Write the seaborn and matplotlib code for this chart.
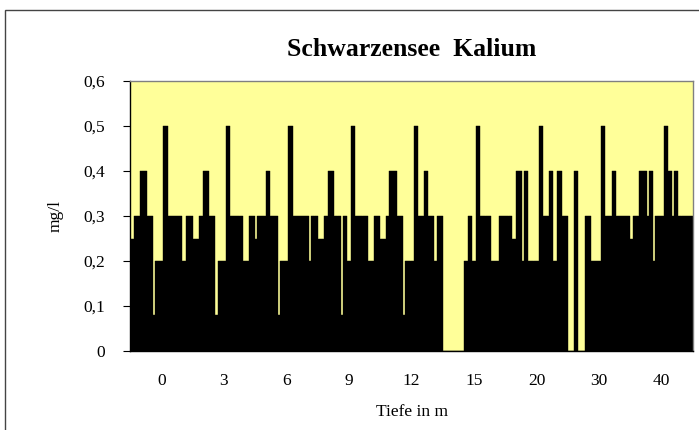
import matplotlib
matplotlib.use("Agg")
import matplotlib.pyplot as plt
import seaborn as sns
import pandas as pd
from matplotlib.patches import Rectangle

# Depth categories (x axis)
depths = ["0", "3", "6", "9", "12", "15", "20", "30", "40"]

# Values (mg/l) per depth, one value per sampling series (30 series)
d0 = [0.25, 0.25, 0.3, 0.3, 0.3, 0.4, 0.4, 0.4, 0.3, 0.3, 0.3, 0.08, 0.2, 0.2, 0.2,
      0.2, 0.5, 0.5, 0.3, 0.3, 0.3, 0.3, 0.3, 0.3, 0.3, 0.2, 0.2, 0.3, 0.3, 0.3]
d3 = [0.25, 0.25, 0.25, 0.3, 0.3, 0.4, 0.4, 0.4, 0.3, 0.3, 0.3, 0.08, 0.2, 0.2, 0.2,
      0.2, 0.5, 0.5, 0.3, 0.3, 0.3, 0.3, 0.3, 0.3, 0.2, 0.2, 0.2, 0.3, 0.3, 0.3]
d6 = [0.25, 0.3, 0.3, 0.3, 0.3, 0.4, 0.4, 0.3, 0.3, 0.3, 0.3, 0.08, 0.2, 0.2, 0.2,
      0.2, 0.5, 0.5, 0.3, 0.3, 0.3, 0.3, 0.3, 0.3, 0.3, 0.3, 0.2, 0.3, 0.3, 0.3]
d9 = [0.25, 0.25, 0.25, 0.3, 0.3, 0.4, 0.4, 0.4, 0.3, 0.3, 0.3, 0.08, 0.3, 0.3, 0.2,
      0.2, 0.5, 0.5, 0.3, 0.3, 0.3, 0.3, 0.3, 0.3, 0.2, 0.2, 0.2, 0.3, 0.3, 0.3]
d12 = [0.25, 0.25, 0.25, 0.3, 0.4, 0.4, 0.4, 0.4, 0.3, 0.3, 0.3, 0.08, 0.2, 0.2, 0.2,
       0.2, 0.5, 0.5, 0.3, 0.3, 0.3, 0.4, 0.4, 0.3, 0.3, 0.3, 0.2, 0.3, 0.3, 0.3]
d15 = [0, 0, 0, 0, 0, 0, 0, 0, 0, 0, 0.2, 0.2, 0.3, 0.3, 0.2,
       0.2, 0.5, 0.5, 0.3, 0.3, 0.3, 0.3, 0.3, 0.2, 0.2, 0.2, 0.2, 0.3, 0.3, 0.3]
d20 = [0.3, 0.3, 0.3, 0.25, 0.25, 0.4, 0.4, 0.4, 0.2, 0.4, 0.4, 0.2, 0.2, 0.2, 0.2,
       0.2, 0.5, 0.5, 0.3, 0.3, 0.3, 0.4, 0.4, 0.2, 0.2, 0.4, 0.4, 0.3, 0.3, 0.3]
d30 = [0, 0, 0, 0.4, 0.4, 0, 0, 0, 0.3, 0.3, 0.3, 0.2, 0.2, 0.2, 0.2,
       0.2, 0.5, 0.5, 0.3, 0.3, 0.3, 0.4, 0.4, 0.3, 0.3, 0.3, 0.3, 0.3, 0.3, 0.3]
d40 = [0.25, 0.3, 0.3, 0.3, 0.4, 0.4, 0.4, 0.4, 0.3, 0.4, 0.4, 0.2, 0.3, 0.3, 0.3,
       0.3, 0.5, 0.5, 0.4, 0.4, 0.3, 0.4, 0.4, 0.3, 0.3, 0.3, 0.3, 0.3, 0.3, 0.3]

yticks = [0, 0.1, 0.2, 0.3, 0.4, 0.5, 0.6]
ytick_labels = ["0", "0,1", "0,2", "0,3", "0,4", "0,5", "0,6"]

all_vals = [d0, d3, d6, d9, d12, d15, d20, d30, d40]
rows = []
for dep, vals in zip(depths, all_vals):
    for i, v in enumerate(vals):
        rows.append({"Tiefe": dep, "Serie": f"S{i:02d}", "Wert": v})
df = pd.DataFrame(rows)
series_order = [f"S{i:02d}" for i in range(len(d0))]

sns.set_style("white")
plt.rcParams["font.family"] = ["Liberation Serif", "DejaVu Serif"]
plt.rcParams["text.color"] = "black"
plt.rcParams["axes.labelcolor"] = "black"
plt.rcParams["xtick.color"] = "black"
plt.rcParams["ytick.color"] = "black"

fig = plt.figure(figsize=(6.99, 4.30), dpi=100)
ax = fig.add_axes([130 / 699, 1 - 351 / 430, (693 - 130) / 699, (351 - 81) / 430])
ax.set_facecolor("#FFFF99")

sns.barplot(data=df, x="Tiefe", y="Wert", hue="Serie", order=depths,
            hue_order=series_order, palette=["black"] * len(series_order),
            width=1.0, dodge=True, errorbar=None, legend=False,
            edgecolor="black", linewidth=0.3, ax=ax)

ax.set_xlim(-0.5, len(depths) - 0.5)
ax.set_ylim(0, 0.6)
ax.set_yticks(yticks)
ax.set_yticklabels(ytick_labels, fontsize=12.5, color="black")
ax.set_xticks(range(len(depths)))
ax.set_xticklabels(depths, fontsize=12.5, color="black")
ax.set_xticks([i - 0.5 for i in range(len(depths) + 1)], minor=True)
ax.tick_params(axis="x", which="major", length=0, pad=16)
ax.tick_params(axis="x", which="minor", length=5, width=0.8, color="#555555", direction="out")
ax.tick_params(axis="y", which="major", length=5, width=0.8, color="black", direction="out", pad=13)
ax.tick_params(left=True, bottom=True)

ax.set_xlabel("Tiefe in m", fontsize=12.5, labelpad=11, color="black")
ax.set_ylabel("mg/l", fontsize=12.5, labelpad=14, color="black")
ax.set_title("Schwarzensee  Kalium", fontsize=18.5, fontweight="bold", pad=18, color="black")

for side in ["left", "bottom"]:
    ax.spines[side].set_color("black")
    ax.spines[side].set_linewidth(1.0)
for side in ["top", "right"]:
    ax.spines[side].set_color("#808080")
    ax.spines[side].set_linewidth(1.0)

fig.add_artist(Rectangle((4.5 / 699, -0.05), 1.0, (1 - 10.5 / 430) + 0.05,
                         transform=fig.transFigure, fill=False,
                         edgecolor="#444444", linewidth=1.0))

fig.savefig("out.png", dpi=100)
